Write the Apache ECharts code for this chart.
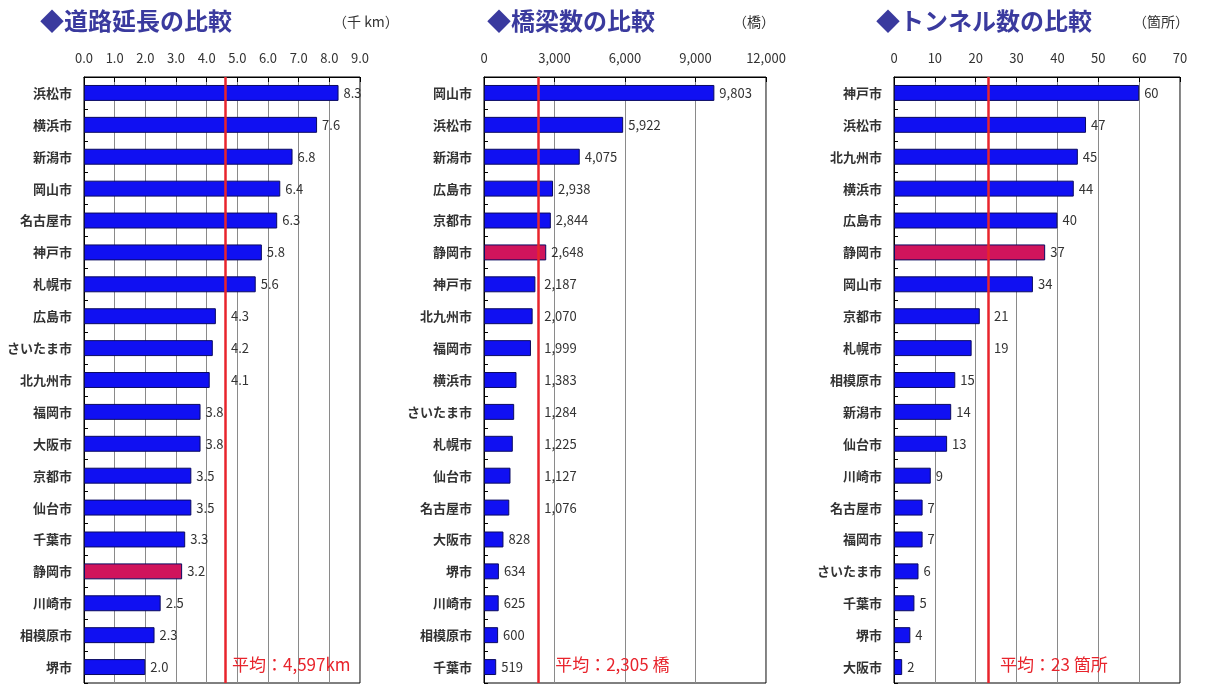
<!DOCTYPE html>
<html lang="ja">
<head>
<meta charset="utf-8">
<title>道路・橋梁・トンネルの比較</title>
<script src="https://cdn.jsdelivr.net/npm/echarts@6/dist/echarts.min.js"></script>
<style>
  html, body { margin: 0; padding: 0; background: #ffffff; }
  #chart { width: 1209px; height: 684px; }
</style>
</head>
<body>
<div id="chart"></div>
<script>
// 道路延長（千km）
const roadCities = ['浜松市','横浜市','新潟市','岡山市','名古屋市','神戸市','札幌市','広島市','さいたま市','北九州市','福岡市','大阪市','京都市','仙台市','千葉市','静岡市','川崎市','相模原市','堺市'];
const roadValues = [8.3, 7.6, 6.8, 6.4, 6.3, 5.8, 5.6, 4.3, 4.2, 4.1, 3.8, 3.8, 3.5, 3.5, 3.3, 3.2, 2.5, 2.3, 2.0];
const roadAvgKm = 4597;

// 橋梁数（橋）
const bridgeCities = ['岡山市','浜松市','新潟市','広島市','京都市','静岡市','神戸市','北九州市','福岡市','横浜市','さいたま市','札幌市','仙台市','名古屋市','大阪市','堺市','川崎市','相模原市','千葉市'];
const bridgeValues = [9803, 5922, 4075, 2938, 2844, 2648, 2187, 2070, 1999, 1383, 1284, 1225, 1127, 1076, 828, 634, 625, 600, 519];
const bridgeAvg = 2305;

// トンネル数（箇所）
const tunnelCities = ['神戸市','浜松市','北九州市','横浜市','広島市','静岡市','岡山市','京都市','札幌市','相模原市','新潟市','仙台市','川崎市','名古屋市','福岡市','さいたま市','千葉市','堺市','大阪市'];
const tunnelValues = [60, 47, 45, 44, 40, 37, 34, 21, 19, 15, 14, 13, 9, 7, 7, 6, 5, 4, 2];
const tunnelAvg = 23;

// 見出し・単位
const titles = ['◆道路延長の比較', '◆橋梁数の比較', '◆トンネル数の比較'];
const units = ['（千 km）', '（橋）', '（箇所）'];

// 目盛り（最大値・間隔）
const axisMax = [9, 12000, 70];
const axisInterval = [1, 3000, 10];

const focusCity = '静岡市';

const withComma = n => String(n).replace(/\B(?=(\d{3})+(?!\d))/g, ',');

const panels = [
  { cities: roadCities, values: roadValues, avg: roadAvgKm / 1000,
    avgText: '平均：' + withComma(roadAvgKm) + 'km',
    tick: v => v.toFixed(1), valueText: v => v.toFixed(1) },
  { cities: bridgeCities, values: bridgeValues, avg: bridgeAvg,
    avgText: '平均：' + withComma(bridgeAvg) + ' 橋',
    tick: v => withComma(v), valueText: v => withComma(v) },
  { cities: tunnelCities, values: tunnelValues, avg: tunnelAvg,
    avgText: '平均：' + tunnelAvg + ' 箇所',
    tick: v => String(v), valueText: v => String(v) }
];

// plot frames
const frames = [
  { left: 84, width: 276 },
  { left: 484, width: 282 },
  { left: 894, width: 286 }
];
const plotTop = 77, plotHeight = 606;

const FONT = '"Noto Sans CJK JP", "Noto Sans", sans-serif';
const BAR = '#1010f2', BAR_FOCUS = '#d0145c', BAR_EDGE = '#0a0a60';
const AVG_RED = '#e8242c';

const chart = echarts.init(document.getElementById('chart'), null, { renderer: 'canvas' });

const grid = [], xAxis = [], yAxis = [], series = [], title = [];

panels.forEach((p, i) => {
  const f = frames[i];
  grid.push({ left: f.left, width: f.width, top: plotTop, height: plotHeight,
    show: true, borderColor: '#000', borderWidth: 1, backgroundColor: '#ffffff',
    outerBoundsMode: 'none', containLabel: false });

  xAxis.push({
    type: 'value', gridIndex: i, position: 'top', min: 0, max: axisMax[i], interval: axisInterval[i],
    axisLine: { show: true, lineStyle: { color: '#000', width: 1 } },
    axisTick: { show: true, inside: true, length: 5, lineStyle: { color: '#000' } },
    axisLabel: { margin: 12, fontSize: 13, color: '#333', fontFamily: FONT, formatter: p.tick },
    splitLine: { show: true, lineStyle: { color: '#8a8a8a', width: 1 } }
  });

  yAxis.push({
    type: 'category', gridIndex: i, inverse: true, data: p.cities,
    axisLine: { show: true, lineStyle: { color: '#000', width: 1 } },
    axisTick: { show: true, inside: true, length: 4, lineStyle: { color: '#000' } },
    axisLabel: { margin: 12, fontSize: 13, fontWeight: 'bold', color: '#333', fontFamily: FONT },
    splitLine: { show: false }
  });

  // average line position in pixels, used to keep value labels clear of it
  const pxPerUnit = f.width / axisMax[i];
  const lineX = f.left + p.avg * pxPerUnit;

  const data = p.values.map((v, k) => {
    const text = p.valueText(v);
    const w = text.length * 7;
    const start = f.left + v * pxPerUnit + 5;
    let dx = 0;
    if (start < lineX + 4 && start + w > lineX + 2) dx = lineX + 6 - start;
    const item = { value: v, label: { offset: [dx, 0] } };
    if (p.cities[k] === focusCity) item.itemStyle = { color: BAR_FOCUS };
    return item;
  });

  series.push({
    type: 'bar', xAxisIndex: i, yAxisIndex: i, data: data,
    barWidth: '50%',
    itemStyle: { color: BAR, borderColor: BAR_EDGE, borderWidth: 1 },
    label: { show: true, position: 'right', distance: 5, fontSize: 13, color: '#333',
      fontFamily: FONT, formatter: d => p.valueText(d.value) },
    emphasis: { disabled: true },
    silent: true,
    z: 2,
    markLine: {
      silent: true, symbol: 'none', animation: false,
      label: { show: false },
      lineStyle: { color: AVG_RED, width: 2.5, type: 'solid' },
      data: [{ xAxis: p.avg }],
      z: 5
    }
  });

  title.push({ text: titles[i], left: [35, 482, 871][i], top: 4,
    textStyle: { fontSize: 24, fontWeight: 'bold', color: '#3a3a9e', fontFamily: FONT } });
  title.push({ text: units[i], left: [328, 728, 1128][i], top: 10,
    textStyle: { fontSize: 14, fontWeight: 'normal', color: '#333', fontFamily: FONT } });
});

chart.setOption({
  animation: false,
  backgroundColor: '#ffffff',
  title, grid, xAxis, yAxis, series
});

// average captions below each line
const graphic = panels.map((p, i) => {
  const x = chart.convertToPixel({ xAxisIndex: i }, p.avg);
  return {
    type: 'text', left: x + [7, 17, 12][i], top: 656, z: 10,
    style: { text: p.avgText, fill: AVG_RED, fontSize: 17, fontFamily: FONT }
  };
});
chart.setOption({ graphic });
</script>
</body>
</html>
